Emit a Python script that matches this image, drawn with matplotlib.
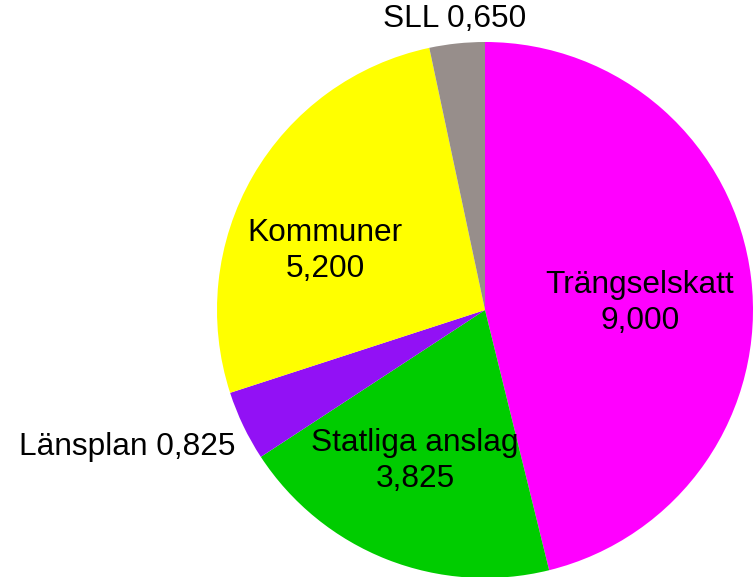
import matplotlib.pyplot as plt

# financing shares (billion SEK), clockwise from the top
names = ['Trängselskatt', 'Statliga anslag', 'Länsplan', 'Kommuner', 'SLL']
values = [9.000, 3.825, 0.825, 5.200, 0.650]
value_text = ['9,000', '3,825', '0,825', '5,200', '0,650']
colors = ['#FF00FF', '#00CC00', '#9211F5', '#FFFF00', '#978E8B']

W, H = 753, 577
fig = plt.figure(figsize=(W / 100, H / 100), dpi=100)
ax = fig.add_axes([0, 0, 1, 1])

cx, cy, r = 485, H - 310, 268
ax.pie(values, colors=colors, startangle=90, counterclock=False,
       center=(cx, cy), radius=r, frame=True,
       wedgeprops={'linewidth': 0})
ax.set_xlim(0, W)
ax.set_ylim(0, H)
ax.set_aspect('equal')
ax.axis('off')

font = {'family': ['Liberation Sans', 'DejaVu Sans'], 'size': 22.8, 'color': 'black'}

# label positions in pixel coordinates (x, y from top)
label_pos = {
    'Trängselskatt': (640, 303, 'center'),
    'Statliga anslag': (415, 461, 'center'),
    'Kommuner': (325, 251, 'center'),
}
for n, v in zip(names, value_text):
    if n in label_pos:
        x, y, ha = label_pos[n]
        ax.text(x, H - y, f'{n}\n{v}', ha=ha, va='center', linespacing=1.25, **font)

ax.text(236, H - 447, f'{names[2]} {value_text[2]}', ha='right', va='center', **font)
ax.text(455, H - 19, f'{names[4]} {value_text[4]}', ha='center', va='center', **font)

fig.savefig('out.png', dpi=100)
